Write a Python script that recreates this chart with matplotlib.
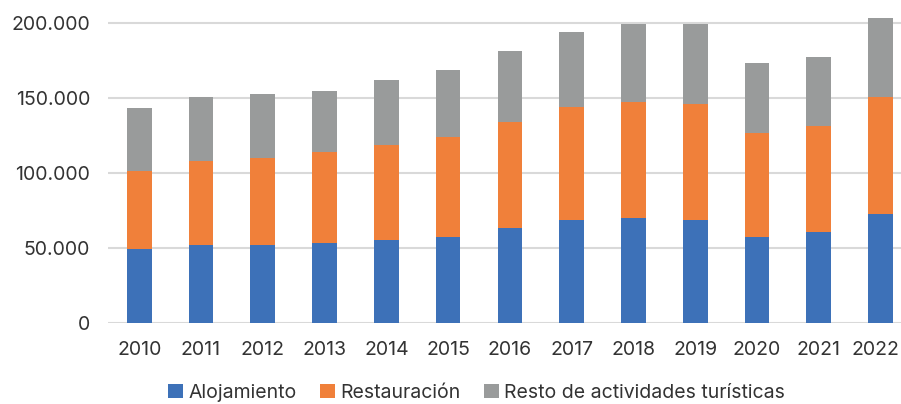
import matplotlib
matplotlib.use("Agg")
import matplotlib.pyplot as plt
import matplotlib.transforms as mtransforms
from matplotlib.ticker import FuncFormatter
import numpy as np

# datos (miles de empleos)
years = ["2010", "2011", "2012", "2013", "2014", "2015", "2016",
         "2017", "2018", "2019", "2020", "2021", "2022"]
alojamiento = [48900, 51800, 51800, 53100, 55300, 57300, 63100,
               68300, 69800, 68300, 57300, 60500, 72700]
restauracion = [52200, 56000, 58200, 60700, 63400, 66500, 70700,
                75500, 77100, 77700, 69200, 70400, 77600]
resto = [42000, 42500, 42500, 40900, 43100, 44500, 47500,
         49800, 52400, 53300, 46400, 46000, 52600]
labels = ["Alojamiento", "Restauración", "Resto de actividades turísticas"]
colors = ["#3D71B8", "#F0803A", "#999B9B"]
yticks = [0, 50000, 100000, 150000, 200000]

plt.rcParams["font.family"] = ["Inter", "DejaVu Sans"]

fig = plt.figure(figsize=(9.01, 4.04), dpi=100)
ax = fig.add_axes([0.1202, 0.2012, 0.8798, 0.7988])

x = np.arange(len(years))
w = 0.40
bottom2 = np.array(alojamiento)
bottom3 = bottom2 + np.array(restauracion)
ax.bar(x, alojamiento, w, color=colors[0], label=labels[0], zorder=3)
ax.bar(x, restauracion, w, bottom=bottom2, color=colors[1], label=labels[1], zorder=3)
ax.bar(x, resto, w, bottom=bottom3, color=colors[2], label=labels[2], zorder=3)

ax.set_xlim(-0.5, 12.33)
ax.set_ylim(0, 215100)
ax.set_xticks(x)
ax.set_xticklabels(years)
ax.set_yticks(yticks)
ax.yaxis.set_major_formatter(FuncFormatter(lambda v, p: f"{int(v):,}".replace(",", ".")))
ax.grid(axis="y", color="#D9D9D9", linewidth=1.5, zorder=0)
for s in ax.spines.values():
    s.set_visible(False)
ax.tick_params(axis="both", length=0, labelsize=14, colors="#333333")
ax.tick_params(axis="y", pad=13)
ax.tick_params(axis="x", pad=13)

# the last year label is pushed left so it stays inside the picture
last = ax.get_xticklabels()[-1]
last.set_transform(last.get_transform() +
                   mtransforms.ScaledTranslation(-5 / 100, 0, fig.dpi_scale_trans))

fig.legend(loc="center", bbox_to_anchor=(0.529, 0.027), ncol=3, frameon=False,
           fontsize=14, handlelength=0.75, handleheight=0.75, handletextpad=0.3,
           columnspacing=1.2, labelcolor="#333333")

fig.savefig("out.png", dpi=100)
